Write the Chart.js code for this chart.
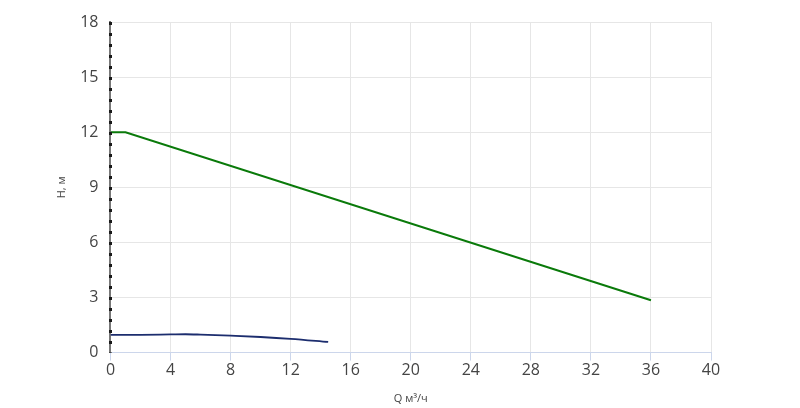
<!DOCTYPE html>
<html lang="ru">
<head>
<meta charset="UTF-8">
<title>H-Q</title>
<script src="https://cdn.jsdelivr.net/npm/chart.js@4.4.0/dist/chart.umd.min.js"></script>
<style>
  html, body { margin: 0; padding: 0; background: #fff; }
  #wrap { width: 800px; height: 408px; }
</style>
</head>
<body>
<div id="wrap"><canvas id="hq"></canvas></div>
<script>
const pumpQ = [0, 1, 36];
const pumpH = [12, 12, 2.85];
const sysQ = [0, 2, 4, 5, 6, 8, 10, 12, 14.5];
const sysH = [0.96, 0.97, 0.99, 1.0, 0.98, 0.92, 0.85, 0.75, 0.58];
const xTicks = [0, 4, 8, 12, 16, 20, 24, 28, 32, 36, 40];
const yTicks = [0, 3, 6, 9, 12, 15, 18];

const toPts = (xs, ys) => xs.map((x, i) => ({ x: x, y: ys[i] }));

// darker dots over the y axis line
const axisDots = {
  id: 'axisDots',
  afterDraw(chart) {
    const a = chart.chartArea, ctx = chart.ctx;
    ctx.save();
    ctx.strokeStyle = '#1a1a1a';
    ctx.lineWidth = 3;
    ctx.setLineDash([3, 8]);
    ctx.beginPath();
    ctx.moveTo(a.left, a.top);
    ctx.lineTo(a.left, a.bottom);
    ctx.stroke();
    ctx.restore();
  }
};

new Chart(document.getElementById('hq'), {
  type: 'line',
  data: {
    datasets: [
      { data: toPts(pumpQ, pumpH), borderColor: '#0a7a0a', borderWidth: 2, pointRadius: 0, tension: 0 },
      { data: toPts(sysQ, sysH), borderColor: '#1c2d6e', borderWidth: 1.8, pointRadius: 0, tension: 0.4, cubicInterpolationMode: 'monotone' }
    ]
  },
  options: {
    responsive: true,
    maintainAspectRatio: false,
    animation: false,
    layout: { padding: { left: 53, right: 89, top: 22, bottom: 3 } },
    plugins: { legend: { display: false }, tooltip: { enabled: false } },
    scales: {
      x: {
        type: 'linear', min: 0, max: 40,
        afterBuildTicks: s => { s.ticks = xTicks.map(v => ({ value: v })); },
        grid: { color: '#e6e6e6', tickColor: '#ccd6eb', tickLength: 8, drawOnChartArea: true },
        border: { color: '#ccd6eb', width: 1 },
        ticks: { color: '#444', font: { family: 'Open Sans', size: 16 }, padding: 0 },
        title: { display: true, text: 'Q м³/ч', color: '#444', font: { family: 'Open Sans', size: 11 }, padding: { top: 12, bottom: 0 } }
      },
      y: {
        min: 0, max: 18,
        afterBuildTicks: s => { s.ticks = yTicks.map(v => ({ value: v })); },
        grid: { color: '#e6e6e6', drawTicks: false },
        border: { color: '#777', width: 2 },
        ticks: { color: '#444', font: { family: 'Open Sans', size: 16 }, padding: 12 },
        title: { display: true, text: 'H, м', color: '#444', font: { family: 'Open Sans', size: 11 }, padding: { top: 2, bottom: 0 } }
      }
    }
  },
  plugins: [axisDots]
});
</script>
</body>
</html>
